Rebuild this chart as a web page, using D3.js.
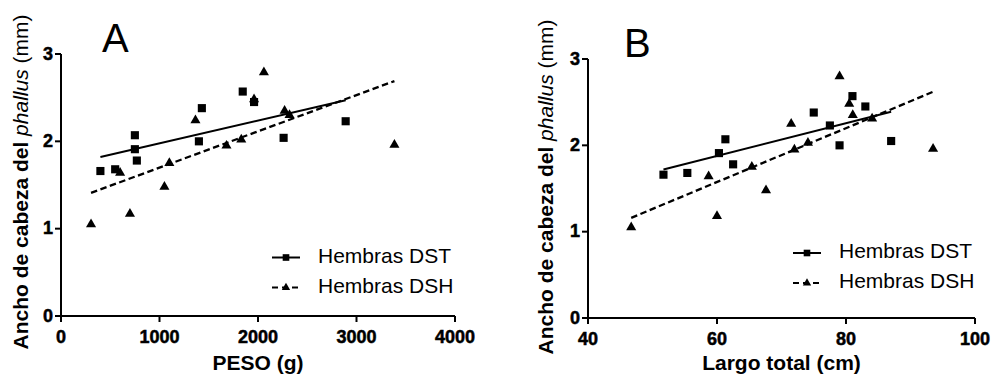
<!DOCTYPE html>
<html>
<head>
<meta charset="utf-8">
<script src="https://cdn.jsdelivr.net/npm/d3@7"></script>
<style>
  body { margin: 0; background: #fff; }
  svg { display: block; font-family: "Liberation Sans", Arial, sans-serif; }
</style>
</head>
<body>
<svg id="chart" width="992" height="380"></svg>
<script>
// Panel A: peso (g) vs ancho de cabeza del phallus (mm)
const pesoDST = [400, 550, 750, 750, 770, 1400, 1430, 1845, 1960, 2260, 2890];
const anchoDST_A = [1.66, 1.68, 2.07, 1.91, 1.78, 2.0, 2.38, 2.57, 2.45, 2.04, 2.23];
const pesoDSH = [305, 600, 700, 1050, 1100, 1365, 1680, 1830, 1960, 2060, 2270, 2320, 3385];
const anchoDSH_A = [1.05, 1.64, 1.17, 1.48, 1.75, 2.24, 1.95, 2.02, 2.48, 2.79, 2.35, 2.30, 1.96];
// regression lines (start, end)
const fitDST_A = [[400, 1.82], [2890, 2.47]];
const fitDSH_A = [[305, 1.41], [3385, 2.69]];

// Panel B: largo total (cm)
const largoDST = [51.7, 55.4, 60.3, 61.3, 62.5, 75.0, 77.5, 79.0, 81.0, 83.0, 87.0];
const anchoDST_B = [1.66, 1.68, 1.91, 2.07, 1.78, 2.38, 2.23, 2.00, 2.57, 2.45, 2.05];
const largoDSH = [46.7, 58.7, 60.0, 65.4, 67.6, 71.5, 72.0, 74.1, 79.0, 80.5, 81.05, 84.05, 93.5];
const anchoDSH_B = [1.05, 1.64, 1.18, 1.75, 1.48, 2.25, 1.95, 2.03, 2.80, 2.48, 2.35, 2.31, 1.96];
const fitDST_B = [[51.7, 1.72], [87.0, 2.39]];
const fitDSH_B = [[46.7, 1.16], [93.5, 2.62]];

const xTicksA = [0, 1000, 2000, 3000, 4000];
const xTicksB = [40, 60, 80, 100];
const yTicks = [0, 1, 2, 3];
const seriesNames = ['Hembras DST', 'Hembras DSH'];

const svg = d3.select('#chart');
const fontFamily = '"Liberation Sans", Arial, sans-serif';

const square = d3.symbol().type(d3.symbolSquare);
const triangle = d3.symbol().type(d3.symbolTriangle);
const dash = '6.5,3.5';

const zip = (xs, ys) => xs.map((x, i) => [x, ys[i]]);

const drawPanel = (g, o) => {
    const x = d3.scaleLinear().domain(o.xDomain).range([o.left, o.left + o.width]);
    const y = d3.scaleLinear().domain([0, 3]).range([o.top + o.height, o.top]);

    // axes
    const yAxis = d3.axisLeft(y).tickValues(yTicks).tickSize(6).tickSizeOuter(0).tickPadding(2).offset(0)
        .tickFormat(d3.format('d'));
    const xAxis = d3.axisBottom(x).tickValues(o.xTicks).tickSize(6).tickSizeOuter(0).tickPadding(8).offset(0)
        .tickFormat(d3.format('d'));

    [
        g.append('g').attr('transform', `translate(${o.left},0)`).call(yAxis),
        g.append('g').attr('transform', `translate(0,${o.top + o.height})`).call(xAxis)
    ].forEach(ax => {
        ax.attr('font-family', fontFamily).attr('font-size', 18).attr('font-weight', 'bold');
        ax.selectAll('path, line').attr('stroke', '#000').attr('stroke-width', 2);
        // heavier glyphs, like the exported figure
        ax.selectAll('text').attr('fill', '#000')
            .attr('stroke', '#000').attr('stroke-width', 0.5);
    });

    // fit lines
    const line = d3.line().x(d => x(d[0])).y(d => y(d[1]));
    g.append('path').attr('d', line(o.fitDST))
        .attr('fill', 'none').attr('stroke', '#000').attr('stroke-width', 2);
    g.append('path').attr('d', line(o.fitDSH))
        .attr('fill', 'none').attr('stroke', '#000').attr('stroke-width', 2.3)
        .attr('stroke-dasharray', dash);

    // points
    g.selectAll('.dst').data(o.dst).join('path')
        .attr('transform', d => `translate(${x(d[0])},${y(d[1])})`)
        .attr('d', square.size(66)()).attr('fill', '#000');
    g.selectAll('.dsh').data(o.dsh).join('path')
        .attr('transform', d => `translate(${x(d[0])},${y(d[1])})`)
        .attr('d', triangle.size(44)()).attr('fill', '#000');

    // panel letter
    g.append('text').attr('x', o.letterX).attr('y', o.letterY)
        .style('font-size', '40px').text(o.letter);

    // y title
    const yt = g.append('text')
        .attr('transform', `translate(${o.yTitleX},${o.yTitleY}) rotate(-90)`)
        .attr('text-anchor', 'middle').style('font-size', '21px');
    yt.append('tspan').style('font-weight', 'bold').text('Ancho de cabeza del ');
    yt.append('tspan').style('font-style', 'italic').text('phallus');
    yt.append('tspan').text(' (mm)');

    // x title
    g.append('text').attr('x', o.left + o.width / 2).attr('y', 370)
        .attr('text-anchor', 'middle').style('font-size', '21px').style('font-weight', 'bold')
        .text(o.xTitle);

    // legend
    const lg = g.append('g').attr('transform', `translate(${o.legX},${o.legY})`);
    seriesNames.forEach((name, i) => {
        const row = lg.append('g').attr('transform', `translate(0,${i * 30})`);
        row.append('line').attr('x1', 0).attr('x2', 28).attr('y1', 0).attr('y2', 0)
            .attr('stroke', '#000').attr('stroke-width', 2)
            .attr('stroke-dasharray', i === 1 ? '6,4' : null);
        row.append('path').attr('transform', 'translate(14,0)')
            .attr('d', (i === 0 ? square.size(44) : triangle.size(30))()).attr('fill', '#000');
        row.append('text').attr('x', 46).attr('y', 5).style('font-size', '21px').text(name);
    });
};

drawPanel(svg.append('g'), {
    left: 61, top: 54, width: 394, height: 262,
    xDomain: [0, 4000], xTicks: xTicksA, xTitle: 'PESO (g)',
    dst: zip(pesoDST, anchoDST_A), dsh: zip(pesoDSH, anchoDSH_A),
    fitDST: fitDST_A, fitDSH: fitDSH_A,
    letter: 'A', letterX: 102, letterY: 52,
    yTitleX: 28, yTitleY: 182,
    legX: 272, legY: 257.5
});

drawPanel(svg.append('g'), {
    left: 588, top: 59, width: 387, height: 259,
    xDomain: [40, 100], xTicks: xTicksB, xTitle: 'Largo total (cm)',
    dst: zip(largoDST, anchoDST_B), dsh: zip(largoDSH, anchoDSH_B),
    fitDST: fitDST_B, fitDSH: fitDSH_B,
    letter: 'B', letterX: 624, letterY: 57,
    yTitleX: 553, yTitleY: 187,
    legX: 793, legY: 253
});
</script>
</body>
</html>
